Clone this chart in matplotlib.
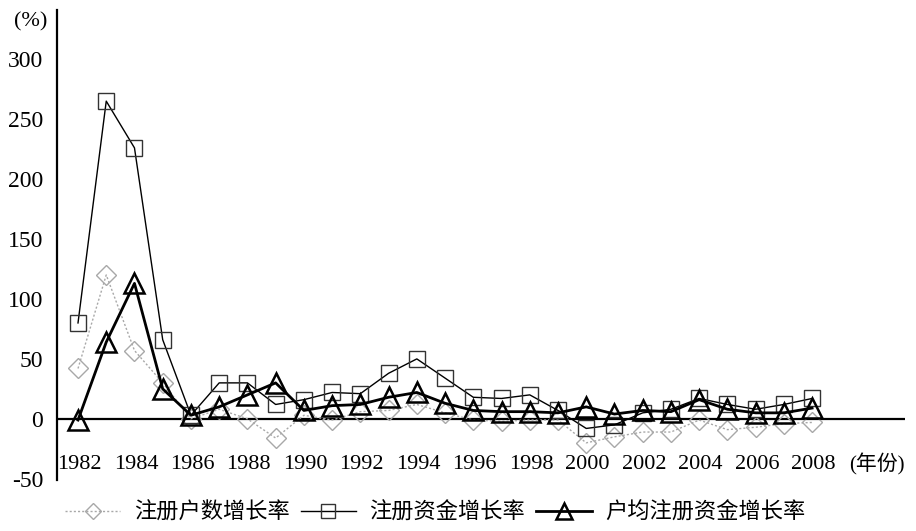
import numpy as np
import matplotlib
matplotlib.use("Agg")
import matplotlib.pyplot as plt

plt.rcParams['font.family'] = ['Liberation Serif', 'Noto Sans CJK SC', 'DejaVu Sans']

# data (%)
years = list(range(1982, 2009))
hu_shu = [42, 120, 57, 30, 0, 8, 0, -16, 3, -1, 6, 7, 12, 5, -1, -2, -1, -1,
          -20, -15, -11, -11, -1, -9, -7, -4, -3]          # 注册户数增长率
zi_jin = [80, 265, 226, 66, 3, 30, 30, 12, 16, 22, 21, 38, 50, 34, 18, 17, 20, 7,
          -8, -5, 5, 8, 17, 12, 8, 12, 17]                  # 注册资金增长率
hu_jun = [-1, 64, 113, 25, 3, 10, 20, 30, 7, 11, 12, 18, 22, 13, 7, 6, 6, 5,
          10, 4, 7, 6, 16, 8, 5, 5, 9]                      # 户均注册资金增长率
labels = ['注册户数增长率', '注册资金增长率', '户均注册资金增长率']
yticks = [300, 250, 200, 150, 100, 50, 0, -50]
xticks = years[::2]

fig = plt.figure(figsize=(9.16, 5.31), dpi=100)
ax = fig.add_axes([57/916, 51/531, 848/916, 470/531])

ax.plot(years, hu_shu, color='#a8a8a8', lw=1.0, ls=(0, (1.5, 1.5)),
        marker='D', ms=10, mfc='none', mec='#a8a8a8', mew=1.0, label=labels[0])
ax.plot(years, zi_jin, color='black', lw=1.0,
        marker='s', ms=12, mfc='none', mec='#333333', mew=1.0, label=labels[1])
ax.plot(years, hu_jun, color='black', lw=2.0,
        marker='^', ms=15, mfc='none', mec='black', mew=1.8, label=labels[2])

ax.axhline(0, color='black', lw=1.6, zorder=0)

ax.set_xlim(1981.256, 2011.29)
ax.set_ylim(-51, 341)
for s in ['top', 'right', 'bottom']:
    ax.spines[s].set_visible(False)
ax.spines['left'].set_linewidth(1.6)
ax.set_xticks([])
ax.set_yticks(yticks)
ax.set_yticklabels([str(v) for v in yticks], fontsize=17)
ax.tick_params(axis='y', length=0, pad=10)

for yr in xticks:
    ax.text(yr + 0.05, -38, str(yr), ha='center', va='center', fontsize=16)
ax.text(2010.3, -38, '(年份)', ha='center', va='center', fontsize=15)
fig.text(31/916, 1 - 22/531, '(%)', ha='center', va='center', fontsize=16)

fig.legend(loc='center', bbox_to_anchor=(0.475, 19/531), ncol=3, frameon=False,
           prop={'family': ['Noto Sans CJK SC'], 'size': 16},
           handlelength=2.5, handletextpad=0.6, columnspacing=0.5, markerscale=0.8)

fig.savefig('out.png', dpi=100)
